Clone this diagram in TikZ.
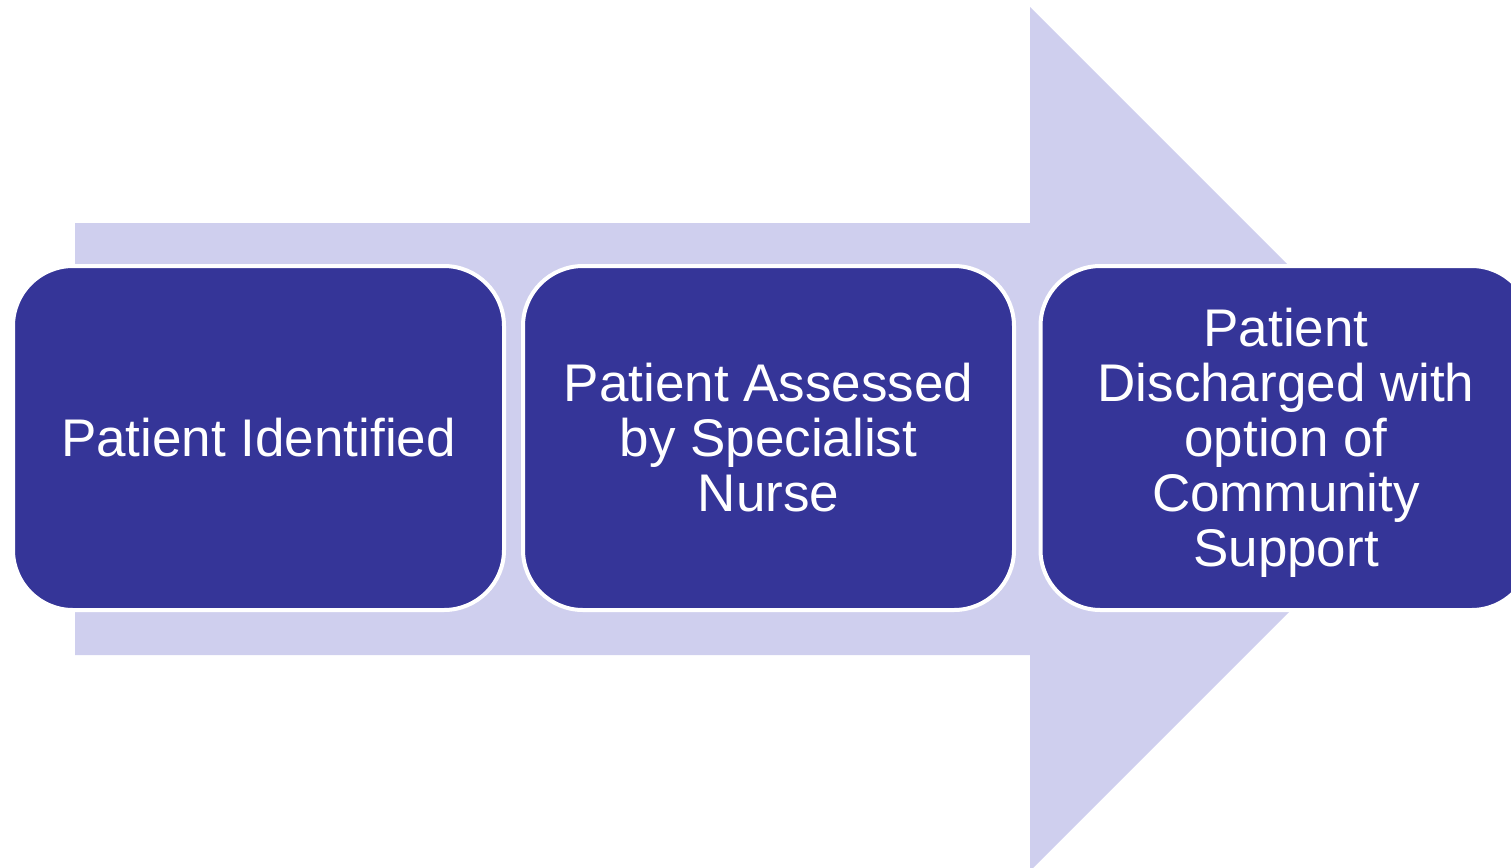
\documentclass[tikz,border=0pt]{standalone}
\usepackage{fontspec}
\setmainfont{Liberation Sans}
\definecolor{boxblue}{HTML}{353598}
\definecolor{arrowlight}{HTML}{CFCFEE}
\begin{document}
\begin{tikzpicture}[x=0.5pt,y=-0.5pt,
  stepbox/.style={draw=white, line width=2pt, fill=boxblue, rounded corners=30pt,
    minimum width=245.5pt, minimum height=172pt, inner sep=0pt,
    text=white, align=center,
    font=\fontsize{26.5}{27.5}\selectfont}]
\useasboundingbox (0,0) rectangle (1511,868);
\begin{scope}
\clip (0,0) rectangle (1511,868);
\fill[arrowlight] (75,223) -- (1030,223) -- (1030,7) -- (1462,439) -- (1030,871) -- (1030,655) -- (75,655) -- cycle;
\node[stepbox] (s1) at (258.5,438) {Patient Identified};
\node[stepbox] (s2) at (768.5,438) {Patient Assessed\\ by Specialist\\ Nurse};
\node[stepbox] (s3) at (1286,438) {\rule{0pt}{24.3pt}Patient\\ Discharged with\\ option of\\ Community\\ Support};
\end{scope}
\end{tikzpicture}
\end{document}
